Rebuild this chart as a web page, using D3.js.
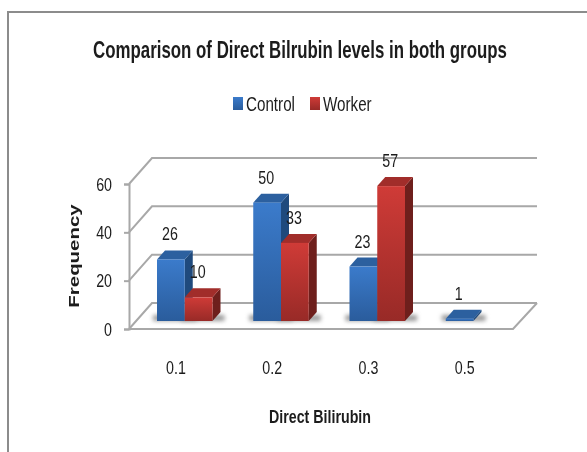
<!DOCTYPE html>
<meta charset="utf-8">
<script src="https://d3js.org/d3.v7.min.js"></script>
<style>
body { margin: 0; background: #fff; }
svg { display: block; }
text { fill: #1c1c1c; font-family: "Liberation Sans", sans-serif; }
.tick line, .domain, .wall { stroke: #a8a8a8; stroke-width: 2px; fill: none; }
</style>
<body>
<div class="chart"></div>
<script>

var categories = ["0.1", "0.2", "0.3", "0.5"],
    control = [26, 50, 23, 1],
    worker = [10, 33, 57, 0],
    yTicks = [0, 20, 40, 60],
    seriesNames = ["Control", "Worker"];

var width = 587, height = 452,
    depthX = 23, depthY = 26,      // floor to back wall offset
    barDepthX = 8, barDepthY = 9,
    narrow = 0.75;                 // the source font is a condensed one

var svg = d3.select(".chart").append("svg")
    .attr("width", width)
    .attr("height", height);

var defs = svg.append("defs");

function gradient(id, top, bottom) {
  var g = defs.append("linearGradient").attr("id", id)
      .attr("x1", 0).attr("y1", 0).attr("x2", 0).attr("y2", 1);
  g.append("stop").attr("offset", "0%").attr("stop-color", top);
  g.append("stop").attr("offset", "100%").attr("stop-color", bottom);
}
gradient("blue", "#3b7bcb", "#2a5c9c");
gradient("red", "#cf3b37", "#982a27");

defs.append("filter").attr("id", "shadow")
    .attr("x", "-30%").attr("y", "-150%").attr("width", "160%").attr("height", "400%")
  .append("feGaussianBlur").attr("stdDeviation", 2.2);
defs.append("filter").attr("id", "soft")
    .attr("x", "-5%").attr("y", "-20%").attr("width", "110%").attr("height", "140%")
  .append("feGaussianBlur").attr("stdDeviation", 0.35);

// Condensed text, drawn with a horizontal squeeze
function label(px, py, str, size, weight, anchor, scaleX) {
  return svg.append("text")
      .attr("transform", "translate(" + px + "," + py + ") scale(" + scaleX + ",1)")
      .attr("text-anchor", anchor || "middle")
      .attr("font-size", size)
      .attr("font-weight", weight || "normal")
      .text(str);
}

// Outer border, only top and left are visible
svg.append("path")
    .attr("d", "M8,452V12H587")
    .attr("fill", "none")
    .attr("stroke", "#8c8c8c")
    .attr("stroke-width", 2);

// Scales
var x = d3.scaleBand().domain(categories).range([157, 542]).padding(0);
var bar = d3.scaleBand().domain(seriesNames).range([0, 55.5]);
var y = d3.scaleLinear().domain([0, 60]).range([329, 184]);
var yBar = d3.scaleLinear().domain([0, 60]).range([321, 179]);

// Back wall lines and floor
var wall = svg.append("g");
yTicks.forEach(function(t) {
  wall.append("path").attr("class", "wall")
      .attr("d", "M129," + y(t) + "L" + (129 + depthX) + "," + (y(t) - depthY) + "H537");
});
wall.append("path").attr("class", "wall")
    .attr("d", "M129,329H513L537," + (329 - depthY));

// Y axis
var yAxis = svg.append("g")
    .attr("transform", "translate(129,0)")
    .call(d3.axisLeft(y).tickValues(yTicks).tickSize(5).tickPadding(5));
yAxis.selectAll("text")
    .attr("font-size", 19)
    .attr("font-family", "Liberation Sans")
    .attr("fill", "#1c1c1c")
    .attr("x", -17 / narrow)
    .attr("transform", "scale(" + narrow + ",1)");

// Bars
var series = [
  {name: "Control", values: control, fill: "url(#blue)", top: "#2c609f", side: "#1f4a7d"},
  {name: "Worker", values: worker, fill: "url(#red)", top: "#a12d2a", side: "#6e1f1c"}
];

function marksOf(s) {
  return s.values.map(function(v, i) {
    return {v: v, x0: x(categories[i]) + bar(s.name), top: yBar(v), base: yBar(0)};
  }).filter(function(d) { return d.v > 0; });
}

var w = bar.bandwidth();

// Shadows go first so they never lie over a neighbouring bar
series.forEach(function(s) {
  svg.append("g").selectAll("rect").data(marksOf(s)).enter().append("rect")
      .attr("x", function(d) { return d.x0 - 4; })
      .attr("y", function(d) { return d.base - 6; })
      .attr("width", w + 16)
      .attr("height", 6)
      .attr("fill", "#9a9a9a")
      .attr("filter", "url(#shadow)");
});

series.forEach(function(s) {
  var marks = marksOf(s);
  var g = svg.append("g");

  g.selectAll(".side").data(marks).enter().append("path")
      .attr("class", "side")
      .attr("fill", s.side)
      .attr("d", function(d) {
        return "M" + (d.x0 + w) + "," + d.top + "l" + barDepthX + "," + (-barDepthY) +
          "V" + (d.base - barDepthY) + "l" + (-barDepthX) + "," + barDepthY + "Z";
      });

  g.selectAll(".top").data(marks).enter().append("path")
      .attr("class", "top")
      .attr("fill", s.top)
      .attr("d", function(d) {
        return "M" + d.x0 + "," + d.top + "l" + barDepthX + "," + (-barDepthY) +
          "h" + w + "l" + (-barDepthX) + "," + barDepthY + "Z";
      });

  g.selectAll(".front").data(marks).enter().append("rect")
      .attr("class", "front")
      .attr("x", function(d) { return d.x0; })
      .attr("y", function(d) { return d.top; })
      .attr("width", w)
      .attr("height", function(d) { return d.base - d.top; })
      .attr("fill", s.fill);
});

// Value labels sit above all the bars
series.forEach(function(s) {
  marksOf(s).forEach(function(d) {
    label(d.x0 + w / 2 - 1, d.top - 19, d.v, 19, "normal", "middle", narrow);
  });
});

// Category labels
categories.forEach(function(c) {
  label(x(c) + 19, 374, c, 19, "normal", "middle", narrow);
});

// Title and axis titles
label(300, 58, "Comparison of Direct Bilrubin levels in both groups", 23, "bold", "middle", 0.733);
label(320, 423, "Direct Bilirubin", 18, "bold", "middle", 0.79);

svg.append("text")
    .attr("transform", "translate(79,256) rotate(-90) scale(1.46,1)")
    .attr("text-anchor", "middle")
    .attr("font-size", 14)
    .attr("font-weight", "bold")
    .text("Frequency");

// Legend
var legendX = [233, 310];
series.forEach(function(s, i) {
  svg.append("rect")
      .attr("x", legendX[i]).attr("y", 97)
      .attr("width", 10).attr("height", 13)
      .attr("fill", s.fill);
  label(legendX[i] + 13, 111, s.name, 20, "normal", "start", 0.76);
});

// The source picture is a slightly soft scan
svg.selectAll("text").attr("filter", "url(#soft)");

</script>
</body>
</html>
